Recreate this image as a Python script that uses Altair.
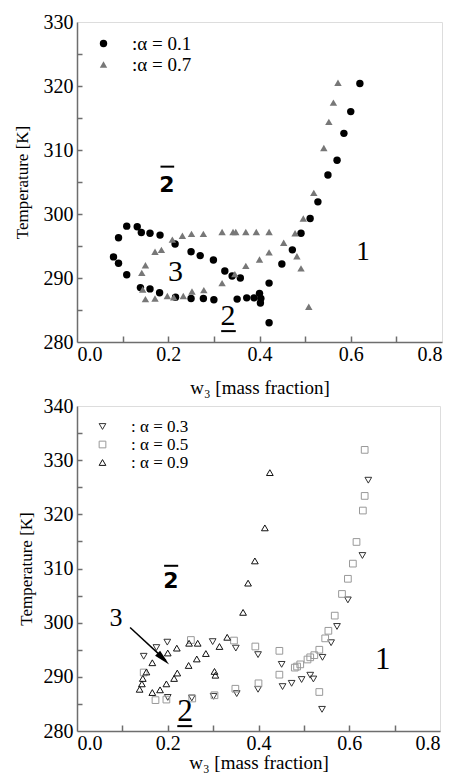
import altair as alt
import pandas as pd

FONT = "Liberation Serif"
GRAY = "#6e6e6e"

# ---------------- top panel data ----------------
top_a01_w = [0.080, 0.091, 0.091, 0.109, 0.109, 0.132, 0.141, 0.160, 0.182, 0.215,
             0.250, 0.270, 0.299, 0.324, 0.340, 0.358,
             0.139, 0.160, 0.181, 0.216, 0.250, 0.277, 0.300, 0.351, 0.372, 0.388,
             0.400, 0.403, 0.402, 0.421, 0.421, 0.449, 0.472, 0.491, 0.511, 0.528,
             0.550, 0.570, 0.585, 0.600, 0.620]
top_a01_T = [293.3, 292.3, 296.3, 290.5, 298.1, 298.0, 297.1, 297.0, 296.7, 295.3,
             294.1, 293.5, 292.8, 291.1, 290.3, 290.0,
             288.5, 288.3, 287.7, 287.0, 286.8, 286.8, 286.6, 286.7, 286.9, 286.9,
             287.6, 286.8, 286.1, 289.2, 283.0, 292.2, 294.4, 297.0, 299.3, 301.9,
             306.1, 308.4, 312.6, 316.0, 320.4]
top_a07_w = [0.142, 0.150, 0.171, 0.185, 0.209, 0.231, 0.251, 0.277, 0.318, 0.342, 0.348, 0.370, 0.393, 0.421,
             0.144, 0.150, 0.171, 0.198, 0.212, 0.233, 0.252, 0.278, 0.318, 0.346, 0.370, 0.400, 0.421,
             0.453, 0.478, 0.482, 0.491, 0.496, 0.508, 0.519, 0.541, 0.552, 0.562, 0.572]
top_a07_T = [290.8, 292.0, 294.1, 294.4, 296.0, 296.6, 296.9, 296.9, 297.2, 297.2, 297.2, 297.2, 297.2, 297.2,
             288.2, 286.7, 286.8, 287.2, 287.0, 287.2, 287.9, 288.1, 289.2, 290.6, 291.9, 292.9, 294.0,
             295.5, 297.0, 293.4, 291.5, 299.3, 285.5, 303.3, 310.3, 314.4, 317.4, 320.5]
top_series = [":α = 0.1", ":α = 0.7"]

# ---------------- bottom panel data ----------------
bot_a03_w = [0.147, 0.175, 0.199, 0.299, 0.350, 0.399, 0.451, 0.453, 0.473, 0.495, 0.514, 0.521,
             0.541, 0.560, 0.573, 0.597, 0.629, 0.642, 0.540, 0.399, 0.352, 0.301, 0.253, 0.200]
bot_a03_T = [293.8, 295.4, 296.4, 296.5, 295.3, 294.1, 292.3, 288.2, 288.8, 289.5, 290.3, 289.6,
             293.6, 296.3, 299.3, 304.2, 312.4, 326.3, 284.0, 287.7, 286.9, 286.4, 286.1, 286.2]
bot_a05_w = [0.147, 0.173, 0.197, 0.254, 0.303, 0.349, 0.400, 0.446, 0.251, 0.346, 0.393, 0.446,
             0.480, 0.485, 0.492, 0.508, 0.514, 0.523, 0.534, 0.547, 0.554, 0.568, 0.584, 0.597,
             0.608, 0.616, 0.630, 0.634, 0.634, 0.534]
bot_a05_T = [290.8, 285.7, 285.8, 286.0, 286.6, 287.8, 288.8, 290.4, 296.8, 296.7, 295.6, 294.8,
             291.7, 291.9, 292.3, 293.2, 293.6, 294.0, 295.0, 297.1, 298.5, 301.3, 305.3, 308.1,
             310.9, 314.9, 320.7, 323.4, 331.9, 287.2]
bot_a09_w = [0.138, 0.143, 0.145, 0.153, 0.166, 0.166, 0.183, 0.197, 0.214, 0.221, 0.246, 0.264,
             0.284, 0.314, 0.331, 0.200, 0.220, 0.247, 0.266, 0.303, 0.305, 0.366, 0.377, 0.392,
             0.414, 0.425]
bot_a09_T = [287.7, 288.7, 289.7, 290.9, 292.6, 287.1, 287.6, 288.7, 289.7, 290.7, 292.1, 293.3,
             294.3, 295.6, 297.3, 294.4, 295.3, 296.2, 296.2, 291.0, 290.3, 301.9, 307.3, 311.4,
             317.5, 327.7]
bot_series = [":  α = 0.3", ":  α = 0.5", ":  α = 0.9"]

# ---------------- annotations (data coordinates) ----------------
top_ann_serif = {"w": [0.216, 0.331, 0.627], "T": [291.0, 284.1, 294.1], "label": ["3", "2", "1"]}
top_ann_serif_size = [30, 30, 27]
top_ann_bold = {"w": [0.197], "T": [304.5], "label": ["2"]}
top_ann_bars = {"w": [0.183, 0.316], "w2": [0.213, 0.348], "T": [307.4, 281.7]}

bot_ann_serif = {"w": [0.086, 0.238, 0.674], "T": [300.8, 283.5, 293.1], "label": ["3", "2", "1"]}
bot_ann_serif_size = [26, 31, 31]
bot_ann_bold = {"w": [0.207], "T": [307.7], "label": ["2"]}
bot_ann_bars = {"w": [0.192, 0.221], "w2": [0.223, 0.254], "T": [310.5, 280.9]}

arrow_line = {"w": [0.117], "T": [299.1], "w2": [0.196], "T2": [293.0]}
arrow_head = {"w": [0.203], "T": [292.3]}

x_label_vals = [0.0, 0.2, 0.4, 0.6, 0.8]
x_tick_vals = [0.1, 0.2, 0.3, 0.4, 0.5, 0.6, 0.7]
top_y_labels = [280, 290, 300, 310, 320, 330]
top_y_ticks = [285, 290, 295, 300, 305, 310, 315, 320, 325]
bot_y_labels = [280, 290, 300, 310, 320, 330, 340]
bot_y_ticks = [285, 290, 295, 300, 305, 310, 315, 320, 325, 330, 335]

CAPTION = "Figure 3.  Experimental results of"


def series_df(groups):
    recs = []
    for name, ws, Ts in groups:
        for w, T in zip(ws, Ts):
            recs.append({"w": w, "T": T, "series": name})
    return pd.DataFrame(recs)


def panel(df, series, colors, shapes, filled, W, H, ydom, ylabels, yticks,
          legend_xy, legend_font, legend_row_pad, legend_offset, sym_size,
          x_title_pad, y_title_pad, ann_serif, serif_sizes, ann_bold, ann_bars, extra=None):
    xs = alt.Scale(domain=[0, 0.8], nice=False, zero=False)
    ys = alt.Scale(domain=ydom, nice=False, zero=False)
    leg = alt.Legend(orient="none", legendX=legend_xy[0], legendY=legend_xy[1], title=None,
                     labelFont=FONT, labelFontSize=legend_font, labelColor="black",
                     labelOffset=legend_offset, rowPadding=legend_row_pad, padding=0,
                     symbolSize=sym_size, symbolStrokeWidth=1, labelLimit=300)
    pts = alt.Chart(df).mark_point(filled=filled, opacity=1, size=sym_size,
                                   strokeWidth=1).encode(
        x=alt.X("w:Q", scale=xs, axis=alt.Axis(
            orient="bottom", values=x_label_vals, format=".1f", ticks=False, tickSize=0,
            labelPadding=2, labelFont=FONT, labelFontSize=20, labelColor="black",
            domainColor=GRAY, domainWidth=1.5, grid=False,
            title="w\u2083 [mass fraction]", titleFont=FONT, titleFontSize=19,
            titleFontWeight="normal", titleColor="black", titlePadding=x_title_pad)),
        y=alt.Y("T:Q", scale=ys, axis=alt.Axis(
            orient="left", values=ylabels, format="d", ticks=False, tickSize=0,
            labelPadding=4, labelFont=FONT, labelFontSize=20, labelColor="black",
            domainColor=GRAY, domainWidth=1.5, grid=False,
            title="Temperature [K]", titleFont=FONT, titleFontSize=17,
            titleFontWeight="normal", titleColor="black", titlePadding=y_title_pad)),
        color=alt.Color("series:N", scale=alt.Scale(domain=series, range=colors), legend=leg),
        shape=alt.Shape("series:N", scale=alt.Scale(domain=series, range=shapes), legend=leg),
    )
    # inward-pointing ticks: secondary axes moved onto the opposite frame edge
    tks = alt.Chart(df).mark_point(opacity=0).encode(
        x=alt.X("w:Q", scale=xs, axis=alt.Axis(
            orient="top", offset=-H, values=x_tick_vals, labels=False, domain=False,
            ticks=True, tickSize=6, tickColor=GRAY, tickWidth=1.5, grid=False, title=None)),
        y=alt.Y("T:Q", scale=ys, axis=alt.Axis(
            orient="right", offset=-W, values=yticks, labels=False, domain=False,
            ticks=True, tickSize=5, tickColor=GRAY, tickWidth=1.5, grid=False, title=None)),
    )
    layers = [pts, tks]
    ann_df = pd.DataFrame(ann_serif)
    ann_df["size"] = serif_sizes
    layers.append(alt.Chart(ann_df).mark_text(font=FONT, color="black", baseline="middle",
                                              align="center").encode(
        x=alt.X("w:Q", scale=xs, axis=None),
        y=alt.Y("T:Q", scale=ys, axis=None),
        text="label:N",
        size=alt.Size("size:Q", scale=None, legend=None)))
    layers.append(alt.Chart(pd.DataFrame(ann_bold)).mark_text(
        font="DejaVu Sans", fontWeight="bold", fontSize=22, color="black",
        baseline="middle", align="center").encode(
        x=alt.X("w:Q", scale=xs, axis=None),
        y=alt.Y("T:Q", scale=ys, axis=None),
        text="label:N"))
    layers.append(alt.Chart(pd.DataFrame(ann_bars)).mark_rule(
        color="black", strokeWidth=2).encode(
        x=alt.X("w:Q", scale=xs, axis=None), x2="w2:Q",
        y=alt.Y("T:Q", scale=ys, axis=None)))
    if extra:
        layers.extend(extra(xs, ys))
    return alt.layer(*layers).resolve_axis(x="independent", y="independent").properties(
        width=W, height=H)


TW, TH = 365, 320
BW, BH = 363, 325

top_df = series_df([(top_series[0], top_a01_w, top_a01_T),
                    (top_series[1], top_a07_w, top_a07_T)])
bot_df = series_df([(bot_series[0], bot_a03_w, bot_a03_T),
                    (bot_series[1], bot_a05_w, bot_a05_T),
                    (bot_series[2], bot_a09_w, bot_a09_T)])


def arrow_layers(xs, ys):
    line = alt.Chart(pd.DataFrame(arrow_line)).mark_rule(color="black", strokeWidth=1.5).encode(
        x=alt.X("w:Q", scale=xs, axis=None), y=alt.Y("T:Q", scale=ys, axis=None),
        x2="w2:Q", y2="T2:Q")
    head = alt.Chart(pd.DataFrame(arrow_head)).mark_point(
        shape="M0,0 L0.45,2 L-0.45,2 Z", filled=True, color="black", opacity=1,
        size=256, angle=134).encode(
        x=alt.X("w:Q", scale=xs, axis=None), y=alt.Y("T:Q", scale=ys, axis=None))
    return [line, head]


top = panel(top_df, top_series, ["black", "#777777"], ["circle", "triangle-up"], True,
            TW, TH, [280, 330], top_y_labels, top_y_ticks,
            (17, 12), 19, 1, 19, 55, 14, 12,
            top_ann_serif, top_ann_serif_size, top_ann_bold, top_ann_bars)
bottom = panel(bot_df, bot_series, ["#333333", "#999999", "#111111"],
               ["triangle-down", "square", "triangle-up"], False,
               BW, BH, [280, 340], bot_y_labels, bot_y_ticks,
               (17, 12), 17, 0, 20, 45, 0, 8,
               bot_ann_serif, bot_ann_serif_size, bot_ann_bold, bot_ann_bars,
               extra=arrow_layers)

chart = alt.vconcat(top, bottom, spacing=64, bounds="flush").resolve_scale(
    color="independent", shape="independent").properties(
    padding={"left": 12, "top": 11, "right": 0, "bottom": -24},
    title=alt.TitleParams(CAPTION, orient="bottom", anchor="start", font=FONT, fontSize=27,
                          fontWeight="bold", color="black", offset=1, dx=40)
).configure_view(stroke=GRAY, strokeWidth=1.5).configure(background="white")

chart.save("out.html", embed_options={"renderer": "svg", "actions": False})
